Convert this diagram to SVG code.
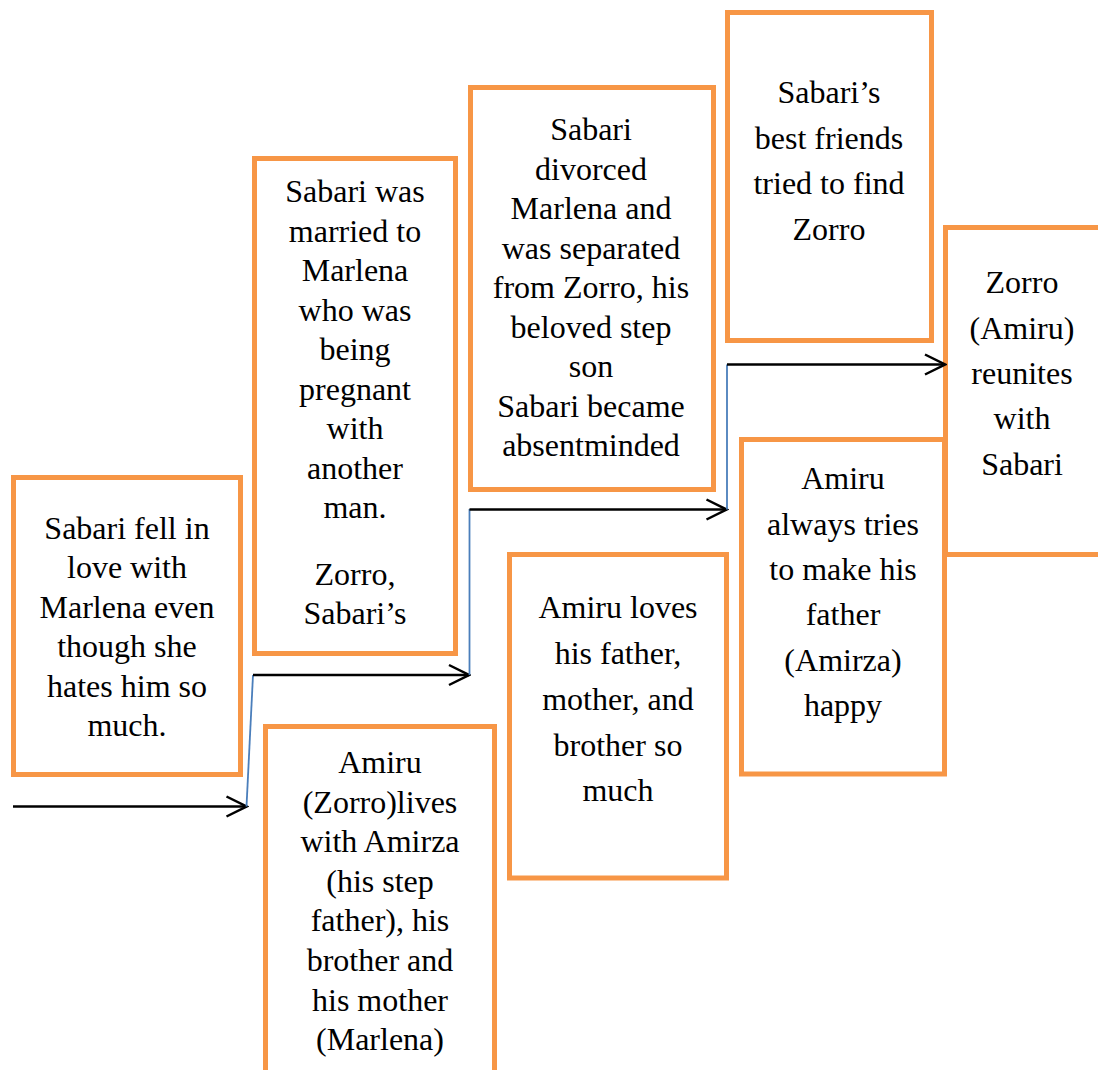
<svg xmlns="http://www.w3.org/2000/svg" width="1098" height="1070" viewBox="0 0 1098 1070">
<style>
.box{fill:#fff;stroke:#F79646;stroke-width:5}
.t{font-family:"Liberation Serif","Times New Roman",serif;font-size:32px;fill:#000;text-anchor:middle}
.ln{fill:none;stroke:#000;stroke-width:2.5}
.bl{fill:none;stroke:#4A7EBB;stroke-width:1.8}
</style>
<defs>
<marker id="arr" viewBox="0 0 24 24" refX="22" refY="12" markerWidth="24" markerHeight="24" markerUnits="userSpaceOnUse" orient="auto">
<path d="M2,2 L22,12 L2,22" fill="none" stroke="#000" stroke-width="2.5"/>
</marker>
</defs>
<rect width="1098" height="1070" fill="#fff"/>
<g id="boxA">
<rect class="box" x="13.5" y="477.5" width="227" height="297"/>
<text class="t"><tspan x="127" y="539">Sabari fell in</tspan><tspan x="127" y="578.4">love with</tspan><tspan x="127" y="617.8">Marlena even</tspan><tspan x="127" y="657.2">though she</tspan><tspan x="127" y="696.6">hates him so</tspan><tspan x="127" y="736">much.</tspan></text>
</g>
<g id="boxB">
<rect class="box" x="254.5" y="158.5" width="201" height="495"/>
<text class="t"><tspan x="355" y="202">Sabari was</tspan><tspan x="355" y="241.5">married to</tspan><tspan x="355" y="281">Marlena</tspan><tspan x="355" y="320.5">who was</tspan><tspan x="355" y="360">being</tspan><tspan x="355" y="399.5">pregnant</tspan><tspan x="355" y="439">with</tspan><tspan x="355" y="478.5">another</tspan><tspan x="355" y="518">man.</tspan><tspan x="355" y="585">Zorro,</tspan><tspan x="355" y="624">Sabari’s</tspan></text>
</g>
<g id="boxC">
<rect class="box" x="470.5" y="87.5" width="243" height="402"/>
<text class="t"><tspan x="591" y="140">Sabari</tspan><tspan x="591" y="179.5">divorced</tspan><tspan x="591" y="219">Marlena and</tspan><tspan x="591" y="258.5">was separated</tspan><tspan x="591" y="298">from Zorro, his</tspan><tspan x="591" y="337.5">beloved step</tspan><tspan x="591" y="377">son</tspan><tspan x="591" y="416.5">Sabari became</tspan><tspan x="591" y="456">absentminded</tspan></text>
</g>
<g id="boxD">
<rect class="box" x="727.5" y="12.5" width="204" height="328"/>
<text class="t"><tspan x="829" y="103">Sabari’s</tspan><tspan x="829" y="148.5">best friends</tspan><tspan x="829" y="194">tried to find</tspan><tspan x="829" y="239.5">Zorro</tspan></text>
</g>
<g id="boxE">
<rect class="box" x="945.5" y="227.5" width="200" height="327"/>
<text class="t"><tspan x="1022" y="293">Zorro</tspan><tspan x="1022" y="338.5">(Amiru)</tspan><tspan x="1022" y="384">reunites</tspan><tspan x="1022" y="429">with</tspan><tspan x="1022" y="474.5">Sabari</tspan></text>
</g>
<g id="boxF">
<rect class="box" x="265.5" y="726.5" width="229" height="400"/>
<text class="t"><tspan x="380" y="773">Amiru</tspan><tspan x="380" y="812.6">(Zorro)lives</tspan><tspan x="380" y="852.2">with Amirza</tspan><tspan x="380" y="891.8">(his step</tspan><tspan x="380" y="931.4">father), his</tspan><tspan x="380" y="971">brother and</tspan><tspan x="380" y="1010.6">his mother</tspan><tspan x="380" y="1050">(Marlena)</tspan></text>
</g>
<g id="boxG">
<rect class="box" x="509.5" y="554.5" width="217" height="323.5"/>
<text class="t"><tspan x="618" y="618">Amiru loves</tspan><tspan x="618" y="664">his father,</tspan><tspan x="618" y="710">mother, and</tspan><tspan x="618" y="755.5">brother so</tspan><tspan x="618" y="801">much</tspan></text>
</g>
<g id="boxH">
<rect class="box" x="741.5" y="439.5" width="203" height="334.5"/>
<text class="t"><tspan x="843" y="489">Amiru</tspan><tspan x="843" y="534.5">always tries</tspan><tspan x="843" y="580">to make his</tspan><tspan x="843" y="625">father</tspan><tspan x="843" y="670.5">(Amirza)</tspan><tspan x="843" y="716">happy</tspan></text>
</g>
<g id="connectors">
<line class="ln" x1="13" y1="806.5" x2="246.5" y2="806.5" marker-end="url(#arr)"/>
<line class="bl" x1="246.5" y1="806.5" x2="253" y2="675"/>
<line class="ln" x1="253" y1="675" x2="469" y2="675" marker-end="url(#arr)"/>
<line class="bl" x1="469.5" y1="675" x2="469.5" y2="509"/>
<line class="ln" x1="469.5" y1="509.5" x2="726.5" y2="509.5" marker-end="url(#arr)"/>
<line class="bl" x1="727" y1="509.5" x2="727" y2="364.5"/>
<line class="ln" x1="727" y1="364.5" x2="945" y2="364.5" marker-end="url(#arr)"/>
</g>
</svg>
